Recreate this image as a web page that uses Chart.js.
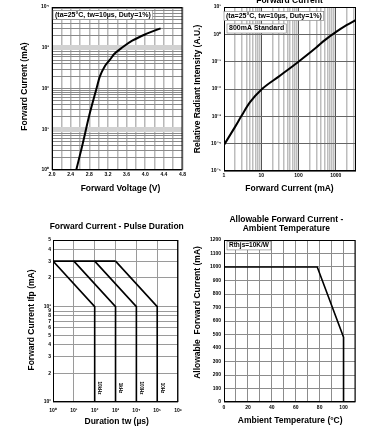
<!DOCTYPE html>
<html>
<head>
<meta charset="utf-8">
<script src="https://cdn.jsdelivr.net/npm/chart.js@4.4.1/dist/chart.umd.min.js"></script>
<style>
  html, body { margin: 0; padding: 0; background: #fff; }
  #wrap { position: relative; width: 377px; height: 443px; overflow: hidden; }
  canvas { position: absolute; }
</style>
</head>
<body>
<div id="wrap">
  <canvas id="c1" width="188" height="205" style="left:0;top:0"></canvas>
  <canvas id="c2" width="189" height="205" style="left:188px;top:0"></canvas>
  <canvas id="c3" width="188" height="238" style="left:0;top:205px"></canvas>
  <canvas id="c4" width="189" height="238" style="left:188px;top:205px"></canvas>
</div>
<script>
// --- chart 1: forward current vs forward voltage
const fwdVoltage = [2.52, 2.65, 2.80, 2.955, 3.025, 3.13, 3.24, 3.34, 3.52, 3.73, 4.02, 4.33];
const fwdCurrent = [1, 4, 22, 100, 196, 348, 505, 710, 1040, 1510, 2180, 3000];
const voltTicks = [2.0, 2.2, 2.4, 2.6, 2.8, 3.0, 3.2, 3.4, 3.6, 3.8, 4.0, 4.2, 4.4, 4.6, 4.8];

// --- chart 2: relative radiant intensity vs forward current
const radCurrent = [1, 2, 2.9, 5, 10.5, 30, 100, 300, 500, 1000, 2000, 3500];
const radIntensity = [9e-5, 4.2e-4, 1e-3, 3.3e-3, 1e-2, 0.029, 0.1, 0.33, 0.6, 1.2, 2.2, 3.4];
const radCurrentLabels = ['1', '10', '100', '1000'];

// --- chart 3: forward current vs pulse duration
const ceilingDur = [1, 1000];
const ceilingCur = [3000, 3000];
const pulseFreqs = ['10kHz', '1kHz', '100Hz', '10Hz'];
const pulseDur = [[1, 100, 100], [10, 1000, 1000], [100, 1e4, 1e4], [1000, 1e5, 1e5]];
const pulseCur = [[3000, 1000, 100], [3000, 1000, 100], [3000, 1000, 100], [3000, 1000, 100]];

// --- chart 4: allowable forward current vs ambient temperature
const ambientTemp = [0, 78, 100, 100];
const allowCurrent = [1000, 1000, 480, 0];

Chart.defaults.font.family = '"Liberation Sans", Arial, Helvetica, sans-serif';
Chart.defaults.font.weight = 'bold';
Chart.defaults.color = '#000';

const SUP = { '-': '⁻', '0': '⁰', '1': '¹', '2': '²', '3': '³', '4': '⁴', '5': '⁵', '6': '⁶' };
function pow10Label(v) {
  const e = Math.round(Math.log10(v));
  return '10' + String(e).split('').map(c => SUP[c]).join('');
}
function isDecade(v) {
  const l = Math.log10(v);
  return Math.abs(l - Math.round(l)) < 1e-9;
}
// log grid positions 1..9 x 10^e
function logGrid(minExp, maxExp) {
  const out = [];
  for (let e = minExp; e < maxExp; e++)
    for (let s = 1; s < 10; s++) out.push(+(s * Math.pow(10, e)).toPrecision(6));
  out.push(Math.pow(10, maxExp));
  return out;
}
function pts(xs, ys) { return xs.map((x, i) => ({ x, y: ys[i] })); }
function fixTicks(list) { return s => { s.ticks = list.map(v => ({ value: v })); }; }

// frame + free texts (titles, notes)
function decor(texts) {
  return {
    id: 'decor',
    afterDraw(chart) {
      const { ctx, chartArea: a } = chart;
      ctx.save();
      ctx.strokeStyle = '#000';
      ctx.lineWidth = 1;
      ctx.strokeRect(a.left + 0.5, a.top + 0.5, a.right - a.left - 1, a.bottom - a.top - 1);
      ctx.restore();
      texts.forEach(t => {
        const x = t.xv !== undefined ? chart.scales.x.getPixelForValue(t.xv) + (t.dx || 0) : t.x;
        const y = t.yv !== undefined ? chart.scales.y.getPixelForValue(t.yv) : t.y;
        ctx.save();
        ctx.font = 'bold ' + t.size + 'px "Liberation Sans", Arial, sans-serif';
        ctx.textAlign = t.align || 'center';
        ctx.textBaseline = t.base || 'middle';
        ctx.translate(x, y);
        if (t.rot) ctx.rotate(t.rot * Math.PI / 180);
        if (t.box) {
          const w = ctx.measureText(t.t).width;
          ctx.fillStyle = '#fff';
          ctx.fillRect(-2, -t.size * 0.65, w + 4, t.size * 1.3);
          ctx.strokeStyle = '#777';
          ctx.lineWidth = 0.6;
          ctx.strokeRect(-2, -t.size * 0.65, w + 4, t.size * 1.3);
        }
        ctx.fillStyle = '#000';
        ctx.fillText(t.t, 0, 0);
        ctx.restore();
      });
    }
  };
}

const tickFont = { size: 5, weight: 'bold' };
const titleSize = 8.5;
const baseOpts = (pad) => ({
  responsive: false,
  animation: false,
  layout: { padding: pad },
  plugins: { legend: { display: false }, tooltip: { enabled: false } }
});
const lineDs = (data, w) => ({
  data, borderColor: '#000', borderWidth: w, pointRadius: 0, fill: false
});

// ---------- chart 1
new Chart('c1', {
  type: 'line',
  data: { datasets: [Object.assign(lineDs(pts(fwdVoltage, fwdCurrent), 2), { cubicInterpolationMode: 'monotone' })] },
  options: Object.assign(baseOpts({ top: 7, right: 4, left: 0, bottom: 0 }), {
    scales: {
      x: {
        type: 'linear', min: 2.0, max: 4.8,
        afterBuildTicks: fixTicks(voltTicks),
        afterFit: s => { s.height = 35; },
        ticks: { autoSkip: false, maxRotation: 0, padding: 2, font: tickFont,
          callback: (v, i) => (i % 2 === 0 ? voltTicks[i].toFixed(1) : '') },
        grid: { drawTicks: false, color: '#b8b8b8', lineWidth: 1.5 },
        border: { display: false }
      },
      y: {
        type: 'logarithmic', min: 1, max: 10000,
        afterBuildTicks: fixTicks(logGrid(0, 4)),
        afterFit: s => { s.width = 52; },
        ticks: { autoSkip: false, padding: 3, font: tickFont,
          callback: v => (isDecade(v) ? pow10Label(v) : '') },
        grid: {
          drawTicks: false,
          color: c => (c.tick && (c.tick.value === 10 || c.tick.value === 1000) ? '#d2d2d2' : '#8a8a8a'),
          lineWidth: c => (c.tick && (c.tick.value === 10 || c.tick.value === 1000) ? 5 : 1)
        },
        border: { display: false }
      }
    }
  }),
  plugins: [decor([
    { t: 'Forward Current (mA)', x: 25, y: 86.5, size: titleSize, rot: -90 },
    { t: 'Forward Voltage (V)', x: 120.5, y: 189, size: titleSize },
    { t: '(ta=25°C, tw=10µs, Duty=1%)', x: 55, y: 15, size: 7, align: 'left', box: true }
  ])]
});

// ---------- chart 2
new Chart('c2', {
  type: 'line',
  data: { datasets: [Object.assign(lineDs(pts(radCurrent, radIntensity), 2), { cubicInterpolationMode: 'monotone' })] },
  options: Object.assign(baseOpts({ top: 7, right: 21, left: 0, bottom: 0 }), {
    scales: {
      x: {
        type: 'logarithmic', min: 1, max: 3500,
        afterBuildTicks: fixTicks(logGrid(0, 3).concat([2000, 3000])),
        afterFit: s => { s.height = 34; },
        ticks: { autoSkip: false, maxRotation: 0, padding: 2, font: tickFont,
          callback: v => (isDecade(v) ? radCurrentLabels[Math.round(Math.log10(v))] : '') },
        grid: {
          drawTicks: false,
          color: c => (c.tick && isDecade(c.tick.value) ? '#555' : '#bdbdbd'),
          lineWidth: c => (c.tick && isDecade(c.tick.value) ? 1 : 1.5)
        },
        border: { display: false }
      },
      y: {
        type: 'logarithmic', min: 1e-5, max: 10,
        afterBuildTicks: fixTicks([1e-5, 1e-4, 1e-3, 1e-2, 1e-1, 1, 10]),
        afterFit: s => { s.width = 36; },
        ticks: { autoSkip: false, padding: 3, font: tickFont, callback: v => pow10Label(v) },
        grid: { drawTicks: false, color: '#666', lineWidth: 1 },
        border: { display: false }
      }
    }
  }),
  plugins: [decor([
    { t: 'Forward Current', x: 101.5, y: 2.5, size: titleSize, base: 'alphabetic' },
    { t: 'Relative Radiant Intensity (A.U.)', x: 9.3, y: 89, size: titleSize, rot: -90 },
    { t: 'Forward Current (mA)', x: 101.5, y: 189, size: titleSize },
    { t: '(ta=25°C, tw=10µs, Duty=1%)', x: 38, y: 16, size: 7, align: 'left', box: true },
    { t: '800mA Standard', x: 41, y: 28.5, size: 7, align: 'left', box: true }
  ])]
});

// ---------- chart 3
const c3sets = [lineDs(pts(ceilingDur, ceilingCur), 1.6)].concat(
  pulseDur.map((d, i) => lineDs(pts(d, pulseCur[i]), 1.6))
);
new Chart('c3', {
  type: 'line',
  data: { datasets: c3sets },
  options: Object.assign(baseOpts({ top: 35, right: 4, left: 0, bottom: 0 }), {
    scales: {
      x: {
        type: 'logarithmic', min: 1, max: 1e6,
        afterBuildTicks: fixTicks([1, 10, 100, 1e3, 1e4, 1e5, 1e6]),
        afterFit: s => { s.height = 41; },
        ticks: { autoSkip: false, maxRotation: 0, padding: 6, font: tickFont, callback: v => pow10Label(v) },
        grid: { drawTicks: false, color: '#9a9a9a', lineWidth: 1 },
        border: { display: false }
      },
      y: {
        type: 'logarithmic', min: 100, max: 5000,
        afterBuildTicks: fixTicks([100, 200, 300, 400, 500, 600, 700, 800, 900, 1000, 2000, 3000, 4000, 5000]),
        afterFit: s => { s.width = 53; },
        ticks: { autoSkip: false, padding: 2, font: tickFont,
          callback: v => (isDecade(v) ? pow10Label(v) : String(v).charAt(0)) },
        grid: { drawTicks: false, color: '#9a9a9a', lineWidth: 1 },
        border: { display: false }
      }
    }
  }),
  plugins: [decor([
    { t: 'Forward Current - Pulse Duration', x: 116.7, y: 22, size: titleSize },
    { t: 'Forward Current Ifp (mA)', x: 31.7, y: 115, size: titleSize, rot: -90 },
    { t: 'Duration tw (µs)', x: 116.7, y: 217, size: titleSize }
  ].concat(pulseFreqs.map((f, i) => (
    { t: f, xv: pulseDur[i][1], dx: 5, yv: 140, size: 4.5, rot: 90 }
  ))))]
});

// ---------- chart 4
new Chart('c4', {
  type: 'line',
  data: { datasets: [lineDs(pts(ambientTemp, allowCurrent), 1.6)] },
  options: Object.assign(baseOpts({ top: 35, right: 21.5, left: 0, bottom: 0 }), {
    scales: {
      x: {
        type: 'linear', min: 0, max: 110,
        afterFit: s => { s.height = 41; },
        ticks: { stepSize: 10, autoSkip: false, maxRotation: 0, padding: 2.5, font: tickFont,
          callback: v => (v % 20 === 0 ? String(v) : '') },
        grid: { drawTicks: false, color: '#8c8c8c', lineWidth: 1 },
        border: { display: false }
      },
      y: {
        type: 'linear', min: 0, max: 1200,
        afterFit: s => { s.width = 36; },
        ticks: { stepSize: 100, autoSkip: false, padding: 3, font: tickFont, callback: v => String(v) },
        grid: { drawTicks: false, color: '#8c8c8c', lineWidth: 1 },
        border: { display: false }
      }
    }
  }),
  plugins: [decor([
    { t: 'Allowable Forward Current -', x: 98.3, y: 15, size: titleSize },
    { t: 'Ambient Temperature', x: 98.3, y: 24, size: titleSize },
    { t: 'Allowable  Forward Current (mA)', x: 9.3, y: 107.5, size: titleSize, rot: -90 },
    { t: 'Ambient Temperature (°C)', x: 102.2, y: 216, size: titleSize },
    { t: 'Rthjs=10K/W', x: 41, y: 40.7, size: 6.5, align: 'left', box: true }
  ])]
});
</script>
</body>
</html>
